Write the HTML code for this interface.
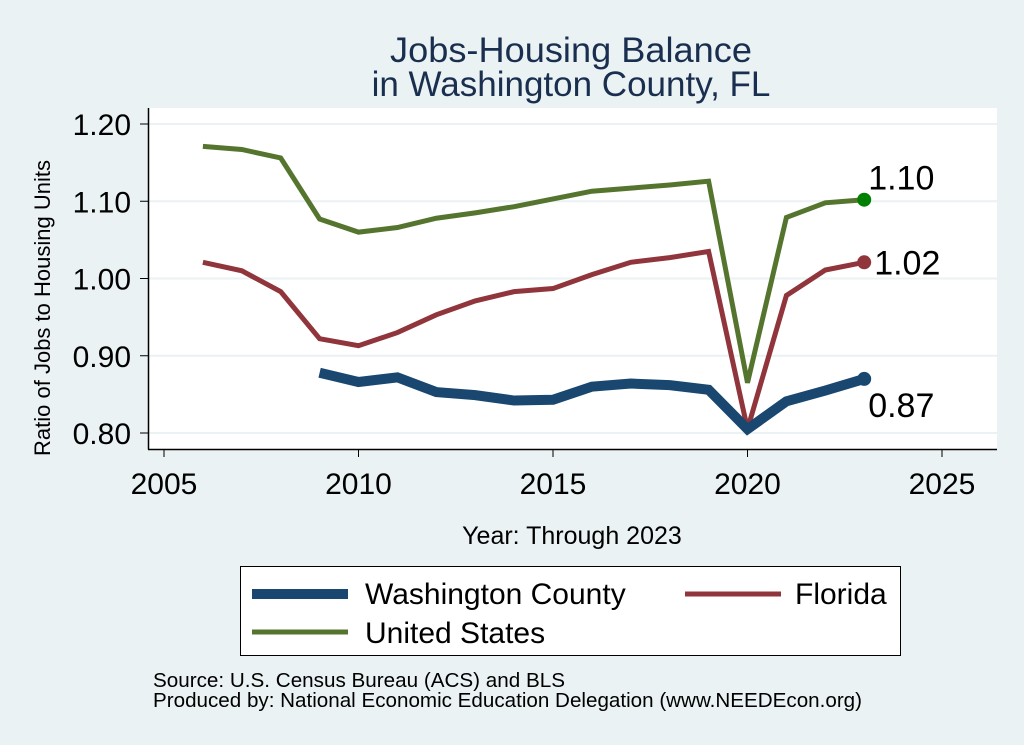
<!DOCTYPE html>
<html><head><meta charset="utf-8"><style>
body{margin:0;background:#eaf2f3;}
svg{display:block;font-family:"Liberation Sans",Arial,sans-serif;}
</style></head><body>
<svg id="chart" width="1024" height="745" viewBox="0 0 1024 745">
<rect x="0" y="0" width="1024" height="745" fill="#eaf2f3"/>
<text x="571" y="62" font-size="35" fill="#1a2f50" text-anchor="middle" textLength="362" lengthAdjust="spacingAndGlyphs">Jobs-Housing Balance</text>
<text x="571" y="96" font-size="35" fill="#1a2f50" text-anchor="middle">in Washington County, FL</text>
<rect x="148" y="108" width="849" height="341" fill="#ffffff"/>
<g id="grid"></g>
<g id="axes"></g>
<g id="series"></g>
<text transform="translate(50,308) rotate(-90)" font-size="22" text-anchor="middle" fill="#000">Ratio of Jobs to Housing Units</text>
<text x="572" y="544" font-size="25" text-anchor="middle" fill="#000">Year: Through 2023</text>
<g>
<rect x="240.5" y="566.5" width="660" height="89" fill="#fff" stroke="#000" stroke-width="1"/>
<line x1="252" y1="594" x2="348" y2="594" stroke="#1a476f" stroke-width="10"/>
<text x="365" y="604" font-size="30" fill="#000">Washington County</text>
<line x1="685" y1="594" x2="781" y2="594" stroke="#90353b" stroke-width="5"/>
<text x="795" y="604" font-size="30" fill="#000">Florida</text>
<line x1="252" y1="632" x2="348" y2="632" stroke="#55752f" stroke-width="5"/>
<text x="365" y="643" font-size="30" fill="#000">United States</text>
</g>
<text x="153" y="687" font-size="20" fill="#000" textLength="412" lengthAdjust="spacingAndGlyphs">Source: U.S. Census Bureau (ACS) and BLS</text>
<text x="153" y="707" font-size="20" fill="#000" textLength="709" lengthAdjust="spacingAndGlyphs">Produced by: National Economic Education Delegation (www.NEEDEcon.org)</text>
</svg>
<script>
const usYears=[2006,2007,2008,2009,2010,2011,2012,2013,2014,2015,2016,2017,2018,2019,2020,2021,2022,2023];
const usValues=[1.171,1.167,1.156,1.077,1.060,1.066,1.078,1.085,1.093,1.103,1.113,1.117,1.121,1.126,0.865,1.079,1.098,1.102];
const flYears=[2006,2007,2008,2009,2010,2011,2012,2013,2014,2015,2016,2017,2018,2019,2020,2021,2022,2023];
const flValues=[1.021,1.010,0.983,0.922,0.913,0.930,0.953,0.971,0.983,0.987,1.005,1.021,1.027,1.035,0.805,0.978,1.011,1.021];
const wcYears=[2009,2010,2011,2012,2013,2014,2015,2016,2017,2018,2019,2020,2021,2022,2023];
const wcValues=[0.878,0.866,0.872,0.853,0.849,0.842,0.843,0.860,0.864,0.862,0.856,0.805,0.841,0.855,0.870];
const yTicks=[0.80,0.90,1.00,1.10,1.20];
const yTickLabels=["0.80","0.90","1.00","1.10","1.20"];
const xTicks=[2005,2010,2015,2020,2025];
const xTickLabels=["2005","2010","2015","2020","2025"];
const endLabels=["1.10","1.02","0.87"];

const NS="http://www.w3.org/2000/svg";
function xS(v){return 164+(v-2005)*(942-164)/20;}
function yS(v){return 433-(v-0.8)*(433-124)/0.4;}
function mk(tag,attrs,parent){const e=document.createElementNS(NS,tag);for(const k in attrs)e.setAttribute(k,attrs[k]);parent.appendChild(e);return e;}
const grid=document.getElementById('grid'),axes=document.getElementById('axes'),series=document.getElementById('series');
yTicks.forEach((t,i)=>{
  const g=mk('line',{x1:148,x2:997,y1:yS(t),y2:yS(t),stroke:'#eaf2f3','stroke-width':2},grid);
  
  
  const tk=mk('line',{x1:140,x2:148,y1:yS(t),y2:yS(t),stroke:'#000','stroke-width':1},axes);
  
  
  const tx=mk('text',{x:131,y:yS(t)+11,'font-size':30,'text-anchor':'end',fill:'#000'},axes);
  tx.textContent=yTickLabels[i];
  
  
});
xTicks.forEach((t,i)=>{
  const tk=mk('line',{x1:xS(t),x2:xS(t),y1:449,y2:457,stroke:'#000','stroke-width':1},axes);
  
  
  const tx=mk('text',{x:xS(t),y:494,'font-size':30,'text-anchor':'middle',fill:'#000'},axes);
  tx.textContent=xTickLabels[i];
  
  
});
const ya=mk('line',{x1:148.5,x2:148.5,y1:108,y2:449.5,stroke:'#000','stroke-width':1.5},axes);


const xa=mk('line',{x1:148,x2:997,y1:449.5,y2:449.5,stroke:'#000','stroke-width':1.5},axes);


function line(xs,vs,color,w,name){
  const p=mk('polyline',{points:xs.map((x,i)=>xS(x)+','+yS(vs[i])).join(' '),fill:'none',stroke:color,'stroke-width':w,'stroke-linejoin':'miter'},series);
  
  
}
line(usYears,usValues,'#55752f',5,'line-united-states');
line(flYears,flValues,'#90353b',5,'line-florida');
line(wcYears,wcValues,'#1a476f',10,'line-washington-county');
const ends=[[usYears,usValues,'#008000',-10,'end-label-us'],[flYears,flValues,'#90353b',12,'end-label-florida'],[wcYears,wcValues,'#1a476f',38,'end-label-washington']];
ends.forEach((e,i)=>{
  const n=e[0].length-1,cx=xS(e[0][n]),cy=yS(e[1][n]);
  const c=mk('circle',{cx:cx,cy:cy,r:7,fill:e[2]},series);
  
  
  const t=mk('text',{x:cx+(i==1?10:4),y:cy+e[3],'font-size':34,fill:'#000'},series);
  t.textContent=endLabels[i];
  
  
});
</script>
</body></html>
